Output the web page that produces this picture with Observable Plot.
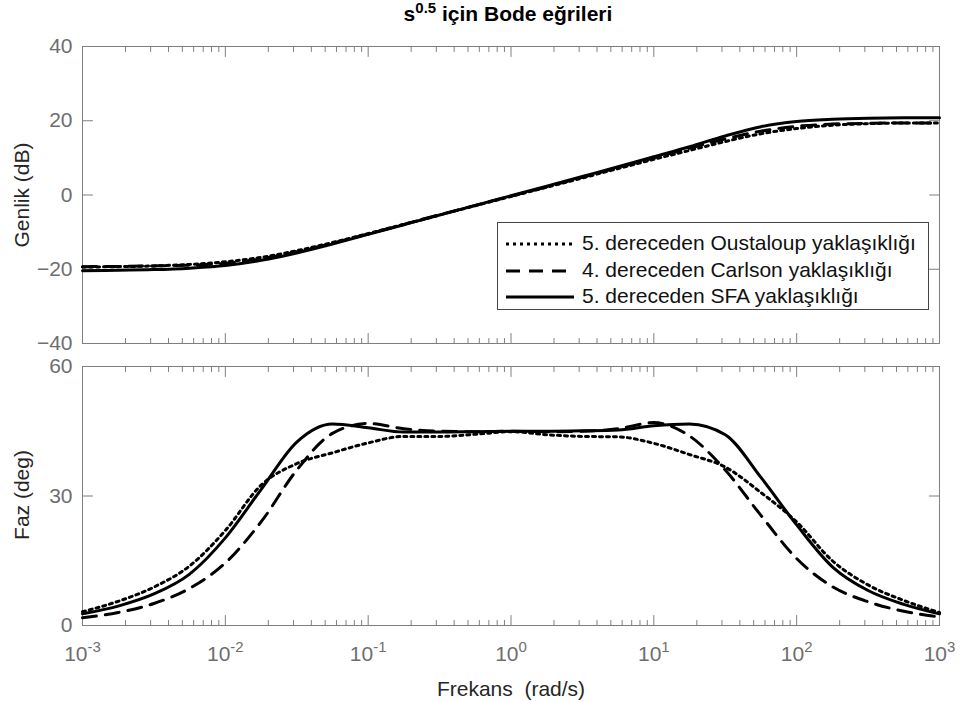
<!DOCTYPE html>
<html><head><meta charset="utf-8">
<script src="https://cdn.jsdelivr.net/npm/d3@7"></script>
<script src="https://cdn.jsdelivr.net/npm/@observablehq/plot@0.6"></script>
<style>
body{margin:0;background:#fff;font-family:"Liberation Sans",Arial,Helvetica,sans-serif;}
#wrap{position:relative;width:960px;height:702px;overflow:hidden;background:#fff;}
.abs{position:absolute;}
.ylab{position:absolute;transform:translate(-50%,-50%) rotate(-90deg);white-space:nowrap;font-size:21px;color:#262626;}
</style></head><body><div id="wrap"></div>
<script>
// ---- data ----
const logFreq = [-3,-2.75,-2.5,-2.25,-2,-1.75,-1.5,-1.25,-1,-0.75,-0.5,-0.25,0,0.25,0.5,0.75,1,1.25,1.5,1.75,2,2.25,2.5,2.75,3];
const seriesNames = ["5. dereceden Oustaloup yaklaşıklığı","4. dereceden Carlson yaklaşıklığı","5. dereceden SFA yaklaşıklığı"];
const magOustaloup = [-19.4,-19.3,-19.1,-18.7,-18.0,-16.8,-15.0,-12.8,-10.4,-7.9,-5.4,-2.9,-0.4,2.1,4.6,7.1,9.6,12.0,14.4,16.5,17.9,18.8,19.2,19.4,19.4];
const magCarlson   = [-19.3,-19.25,-19.1,-18.9,-18.4,-17.2,-15.3,-13.0,-10.5,-7.9,-5.3,-2.8,-0.3,2.2,4.8,7.4,10.0,12.6,15.1,17.2,18.5,19.1,19.3,19.4,19.4];
const magSFA       = [-20.4,-20.3,-20.1,-19.7,-19.0,-17.6,-15.6,-13.2,-10.6,-8.0,-5.4,-2.8,-0.2,2.4,5.0,7.6,10.3,13.0,15.9,18.4,19.8,20.4,20.7,20.8,20.8];
const phaseOustaloup = [3.2,5.6,8.9,13.8,22.0,32.5,37.5,40.0,42.3,43.8,43.8,44.3,44.9,44.2,43.8,43.7,42.2,39.6,36.7,30.8,24.0,15.0,9.4,5.8,3.0];
const phaseCarlson   = [1.8,3.0,5.1,8.6,14.5,24.0,36.0,44.5,46.8,45.6,45.0,44.9,45.0,44.9,45.0,45.6,47.0,43.9,36.0,25.5,15.5,9.0,5.5,3.3,2.0];
const phaseSFA       = [2.7,4.5,7.3,11.9,20.3,31.5,42.5,46.7,45.8,44.8,44.8,44.9,45.0,45.0,45.1,45.3,46.3,46.7,44.2,34.3,23.3,13.6,8.1,4.9,2.7];
const xTickExponents = [-3,-2,-1,0,1,2,3];
const minorMultipliers = [2,3,4,5,6,7,8,9];
const magTicks = [-40,-20,0,20,40];
const phaseTicks = [0,30,60];
const dashStyles = ["3,4","14,9",null];

// ---- build table ----
const magSeries = [magOustaloup, magCarlson, magSFA];
const phaseSeries = [phaseOustaloup, phaseCarlson, phaseSFA];
const rows = [];
seriesNames.forEach((name, k) => logFreq.forEach((lf, i) => rows.push({s: name, w: Math.pow(10, lf), mag: magSeries[k][i], phase: phaseSeries[k][i]})));

const xMajor = xTickExponents.map(e => Math.pow(10, e));
const xMinor = xTickExponents.slice(0, -1).flatMap(e => minorMultipliers.map(m => m * Math.pow(10, e)));
const axisGray = "#7f7f7f";
const labelGray = "#6e6e6e";
const FONT = '"Liberation Sans", Arial, Helvetica, sans-serif';
const tickShape = {draw(context, l) { context.moveTo(0, 0); context.lineTo(0, -l); }};

function makePlot({yDomain, yTicks, height, marginTop, marginBottom, field, showX}) {
  const xMin = xMajor[0], xMax = xMajor[xMajor.length - 1];
  const v = {anchor: "start", shape: tickShape, stroke: axisGray, strokeWidth: 1};
  const marks = [
    Plot.frame({stroke: axisGray}),
    Plot.vector(xMajor, {x: d => d, y: () => yDomain[1], length: 10, rotate: 180, ...v}),
    Plot.vector(xMajor, {x: d => d, y: () => yDomain[0], length: 10, rotate: 0, ...v}),
    Plot.vector(xMinor, {x: d => d, y: () => yDomain[1], length: 5, rotate: 180, ...v}),
    Plot.vector(xMinor, {x: d => d, y: () => yDomain[0], length: 5, rotate: 0, ...v}),
    Plot.vector(yTicks, {x: () => xMin, y: d => d, length: 10, rotate: 90, ...v}),
    Plot.vector(yTicks, {x: () => xMax, y: d => d, length: 10, rotate: 270, ...v}),
    Plot.axisY(yTicks, {anchor: "left", tickSize: 0, tickPadding: 10, fill: labelGray, stroke: "none", fontSize: 21, label: null})
  ];
  if (showX) marks.push(Plot.axisX(xMajor, {anchor: "bottom", tickSize: 0, tickPadding: 21, fill: labelGray, stroke: "none", fontSize: 21, label: null,
    tickFormat: d => "10^" + Math.round(Math.log10(d))}));
  seriesNames.forEach((name, k) => {
    marks.push(Plot.line(rows.filter(d => d.s === name), {x: "w", y: field, stroke: "black", strokeWidth: 3,
      strokeDasharray: dashStyles[k] || undefined, curve: "monotone-x"}));
  });
  return Plot.plot({
    width: 960, height, marginLeft: 82, marginRight: 21, marginTop, marginBottom,
    style: {fontFamily: FONT, background: "transparent", overflow: "visible"},
    x: {type: "log", domain: [xMin, xMax], axis: showX ? undefined : null},
    y: {domain: yDomain},
    marks
  });
}

const wrap = document.getElementById("wrap");
const topPlot = makePlot({yDomain: [-40, 40], yTicks: magTicks, height: 355, marginTop: 46, marginBottom: 12, field: "mag", showX: false});
topPlot.classList.add("abs"); topPlot.style.left = "0px"; topPlot.style.top = "0px";
wrap.appendChild(topPlot);
const botPlot = makePlot({yDomain: [0, 60], yTicks: phaseTicks, height: 347, marginTop: 11, marginBottom: 77, field: "phase", showX: true});
botPlot.classList.add("abs"); botPlot.style.left = "0px"; botPlot.style.top = "355px";
wrap.appendChild(botPlot);

// superscript exponents on x tick labels
botPlot.querySelectorAll('g[aria-label="x-axis tick label"] text').forEach(el => {
  const parts = el.textContent.split("^");
  if (parts.length !== 2) return;
  el.textContent = "";
  const ns = "http://www.w3.org/2000/svg";
  const b = document.createElementNS(ns, "tspan"); b.textContent = parts[0];
  const e = document.createElementNS(ns, "tspan"); e.textContent = parts[1];
  e.setAttribute("dy", "-9"); e.setAttribute("font-size", "15");
  el.appendChild(b); el.appendChild(e);
});

// title
const title = document.createElement("div");
title.className = "abs";
title.style.cssText = "left:0;width:1016px;top:3px;text-align:center;font-weight:bold;font-size:21px;line-height:22px;color:#000;";
title.innerHTML = "s<span style='font-size:15px;position:relative;top:-8px'>0.5</span> için Bode eğrileri";
wrap.appendChild(title);

// axis labels
const yl1 = document.createElement("div"); yl1.className = "ylab"; yl1.style.left = "22px"; yl1.style.top = "195px"; yl1.textContent = "Genlik (dB)"; wrap.appendChild(yl1);
const yl2 = document.createElement("div"); yl2.className = "ylab"; yl2.style.left = "22px"; yl2.style.top = "495px"; yl2.textContent = "Faz (deg)"; wrap.appendChild(yl2);
const xl = document.createElement("div"); xl.className = "abs";
xl.style.cssText = "left:0;width:1022px;top:677px;text-align:center;font-size:21px;color:#262626;white-space:pre;";
xl.textContent = "Frekans  (rad/s)";
wrap.appendChild(xl);

// legend
const leg = document.createElement("div"); leg.className = "abs";
leg.style.cssText = "left:497px;top:222px;width:432px;height:88px;border:1px solid #444;background:#fff;box-sizing:border-box;";
seriesNames.forEach((name, k) => {
  const row = document.createElement("div"); row.className = "abs";
  row.style.cssText = `left:0;top:${8 + k * 26.5}px;height:26px;width:430px;`;
  const dash = dashStyles[k] ? `stroke-dasharray="${dashStyles[k]}"` : "";
  row.innerHTML = `<svg class="abs" style="left:6px;top:0" width="72" height="26"><line x1="2" x2="70" y1="13" y2="13" stroke="black" stroke-width="3" ${dash}/></svg>` +
    `<span class="abs" style="left:84px;top:0px;font-size:21px;color:#111;white-space:nowrap;">${name}</span>`;
  leg.appendChild(row);
});
wrap.appendChild(leg);
</script></body></html>
